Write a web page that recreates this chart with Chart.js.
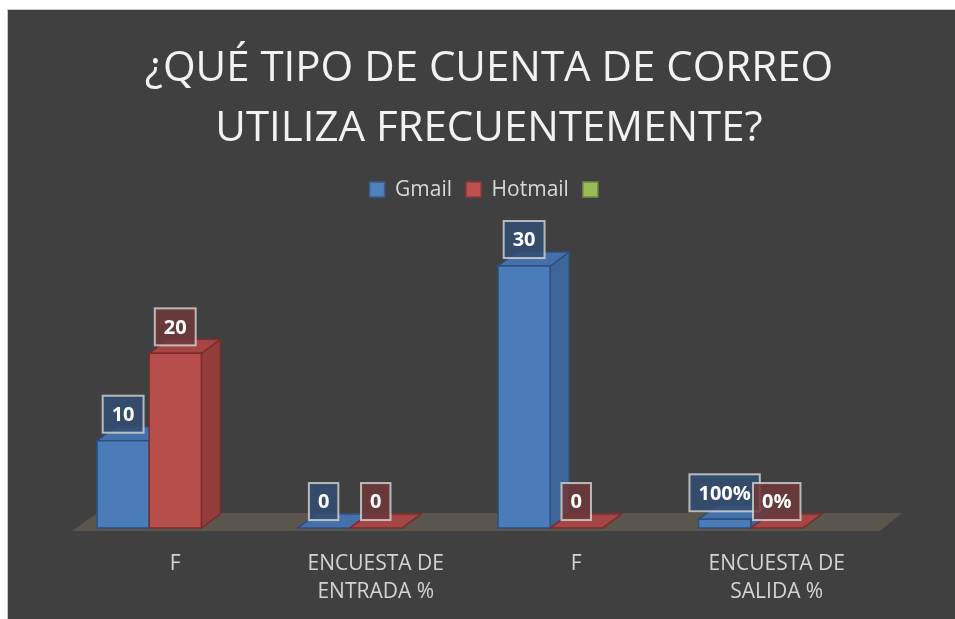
<!DOCTYPE html>
<html>
<head>
<meta charset="utf-8">
<script src="https://cdn.jsdelivr.net/npm/chart.js@4.4.1/dist/chart.umd.min.js"></script>
<style>
  html, body { margin: 0; padding: 0; background: #ffffff; }
  #wrap { position: absolute; left: 7px; top: 9px; width: 947px; height: 609px; border-left: 1px solid #c8c8c8; border-top: 1px solid #c8c8c8; background: #404040; }
  canvas { display: block; }
</style>
</head>
<body>
<div id="wrap"><canvas id="c" width="947" height="609"></canvas></div>
<script>
// ---- data ----
const titleLines = ["¿QUÉ TIPO DE CUENTA DE CORREO", "UTILIZA FRECUENTEMENTE?"];
const categories = ["F", ["ENCUESTA DE", "ENTRADA %"], "F", ["ENCUESTA DE", "SALIDA %"]];
const seriesNames = ["Gmail", "Hotmail", ""];
const gmailValues = [10, 0, 30, 1];
const hotmailValues = [20, 0, 0, 0];
const thirdValues = [null, null, null, null];
const gmailLabels = ["10", "0", "30", "100%"];
const hotmailLabels = ["20", "0", "0", "0%"];
const valueLabels = [gmailLabels, hotmailLabels, []];

// ---- styles ----
const FONT = '"Open Sans", "Noto Sans", sans-serif';
const faces = [
  { front: '#4b7cba', side: '#3c6699', top: '#4571aa', edge: '#2d4f7d', label: 'rgba(52,78,115,0.85)' },
  { front: '#b64e4c', side: '#913d3c', top: '#a44645', edge: '#7c2c2b', label: 'rgba(112,56,56,0.85)' },
  { front: '#9bbb59', side: '#7d9a45', top: '#8aab4d', edge: '#5f7a30', label: 'rgba(100,120,60,0.85)' }
];
const DX = 19, DY = -14;

function poly(ctx, pts, fill, stroke) {
  ctx.beginPath();
  ctx.moveTo(pts[0][0], pts[0][1]);
  for (let i = 1; i < pts.length; i++) ctx.lineTo(pts[i][0], pts[i][1]);
  ctx.closePath();
  ctx.fillStyle = fill; ctx.fill();
  if (stroke) { ctx.strokeStyle = stroke; ctx.lineWidth = 1.5; ctx.stroke(); }
}

const threeD = {
  id: 'threeD',
  beforeDatasetsDraw(chart) {
    const a = chart.chartArea, ctx = chart.ctx;
    const b = a.bottom;
    poly(ctx, [[a.left - 3, b + 3], [a.right + 3, b + 3], [a.right + 25, b - 15], [a.left + 22, b - 15]], '#5a564d');
  },
  beforeDatasetDraw() { return false; },
  afterDatasetsDraw(chart) {
    const ctx = chart.ctx;
    const n = chart.data.labels.length;
    const nds = chart.data.datasets.length;
    for (let i = 0; i < n; i++) {
      for (let d = 0; d < nds; d++) {
        const v = chart.data.datasets[d].data[i];
        if (v === null || v === undefined) continue;
        const el = chart.getDatasetMeta(d).data[i];
        const f = faces[d];
        const l = el.x - el.width / 2, r = el.x + el.width / 2, t = el.y, bs = el.base;
        poly(ctx, [[r, t], [r + DX, t + DY], [r + DX, bs + DY], [r, bs]], f.side, f.edge);
        poly(ctx, [[l, t], [l + DX, t + DY], [r + DX, t + DY], [r, t]], f.top, f.edge);
        if (bs - t > 0.5) poly(ctx, [[l, t], [r, t], [r, bs], [l, bs]], f.front, f.edge);
      }
    }
    ctx.font = 'bold 20px ' + FONT;
    ctx.textAlign = 'center';
    ctx.textBaseline = 'middle';
    for (let i = 0; i < n; i++) {
      for (let d = 0; d < nds; d++) {
        const txt = valueLabels[d][i];
        if (!txt) continue;
        const el = chart.getDatasetMeta(d).data[i];
        const w = ctx.measureText(txt).width + 18, h = 37;
        const bottom = el.y - 8;
        const x0 = el.x - w / 2, y0 = bottom - h;
        ctx.fillStyle = faces[d].label;
        ctx.fillRect(x0, y0, w, h);
        ctx.strokeStyle = 'rgba(215,215,215,0.8)';
        ctx.lineWidth = 2;
        ctx.strokeRect(x0, y0, w, h);
        ctx.fillStyle = '#ffffff';
        ctx.fillText(txt, el.x, y0 + h / 2 + 1);
      }
    }
  }
};

new Chart(document.getElementById('c'), {
  type: 'bar',
  data: {
    labels: categories,
    datasets: [
      { label: seriesNames[0], data: gmailValues, backgroundColor: '#4f81bd', borderColor: '#385d8a', borderWidth: 1.5 },
      { label: seriesNames[1], data: hotmailValues, backgroundColor: '#c0504d', borderColor: '#8c3836', borderWidth: 1.5 },
      { label: seriesNames[2], data: thirdValues, backgroundColor: '#9bbb59', borderColor: '#71893f', borderWidth: 1.5 }
    ]
  },
  plugins: [threeD],
  options: {
    responsive: false,
    animation: false,
    devicePixelRatio: 1,
    categoryPercentage: 0.78,
    barPercentage: 1.0,
    layout: { padding: { left: 67, right: 52, top: 0, bottom: -9 } },
    plugins: {
      title: {
        display: true,
        text: titleLines,
        color: '#f2f2f2',
        font: { family: FONT, size: 42, weight: 'normal', lineHeight: 1.43 },
        padding: { top: 29, bottom: 6 }
      },
      legend: {
        display: true,
        position: 'top',
        labels: {
          color: '#d9d9d9',
          font: { family: FONT, size: 21 },
          boxWidth: 15, boxHeight: 15,
          padding: 14
        }
      },
      tooltip: { enabled: false }
    },
    scales: {
      x: {
        grid: { display: false, drawTicks: false },
        border: { display: false },
        ticks: { color: '#d4d4d4', font: { family: FONT, size: 21, lineHeight: 1.38 }, padding: 21, maxRotation: 0, autoSkip: false }
      },
      y: {
        position: 'right',
        min: 0, max: 36.4,
        grid: { display: false, drawTicks: false },
        border: { display: false },
        ticks: { display: false },
        afterFit(scale) { scale.width = 26; }
      }
    }
  }
});
</script>
</body>
</html>
